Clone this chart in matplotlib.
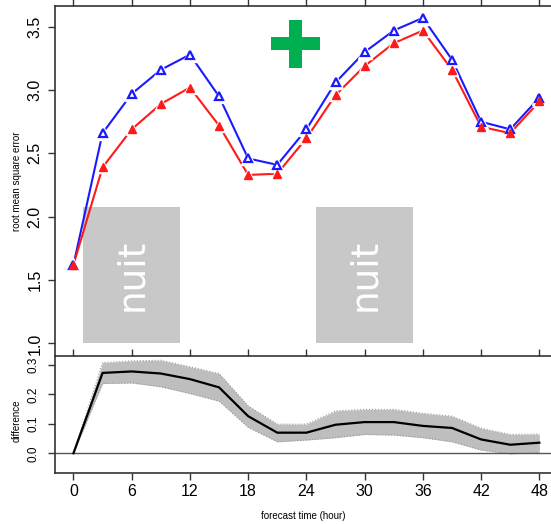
import matplotlib
matplotlib.use("Agg")
import matplotlib.pyplot as plt
from matplotlib.patches import Rectangle

plt.rcParams['font.family'] = ['Liberation Sans', 'DejaVu Sans']

# forecast lead times (hours)
hours = [0, 3, 6, 9, 12, 15, 18, 21, 24, 27, 30, 33, 36, 39, 42, 45, 48]

# RMSE of the two forecasts
rmse_blue = [1.62, 2.66, 2.97, 3.16, 3.28, 2.95, 2.46, 2.41, 2.69, 3.06, 3.30,
             3.47, 3.57, 3.24, 2.75, 2.69, 2.94]
rmse_red = [1.62, 2.39, 2.69, 2.89, 3.02, 2.72, 2.33, 2.34, 2.62, 2.96, 3.19,
            3.37, 3.47, 3.16, 2.71, 2.66, 2.91]

# difference and its confidence band
diff = [0.0, 0.273, 0.278, 0.271, 0.252, 0.224, 0.126, 0.070, 0.070, 0.097,
        0.106, 0.106, 0.093, 0.086, 0.047, 0.029, 0.036]
diff_hi = [0.0, 0.308, 0.314, 0.316, 0.294, 0.271, 0.161, 0.099, 0.099, 0.144,
           0.149, 0.149, 0.136, 0.126, 0.085, 0.064, 0.065]
diff_lo = [0.0, 0.237, 0.239, 0.226, 0.203, 0.177, 0.088, 0.039, 0.045, 0.053,
           0.064, 0.062, 0.053, 0.039, 0.011, -0.002, 0.002]

# night periods
nuit_spans = [(1, 11), (25, 35)]
nuit_bottom, nuit_top = 1.0, 2.08

W, H = 551, 524
fig = plt.figure(figsize=(W / 100, H / 100), dpi=100)


def fx(px):
    return px / W


def fy(py):
    return 1 - py / H


left = fx(55)
ax1 = fig.add_axes([left, fy(356), 1 - left, fy(5.7) - fy(356)])
ax2 = fig.add_axes([left, fy(473), 1 - left, fy(356) - fy(473)])

axcol = '#333333'
xlim = (-1.9, 49.2)
label_x = (fx(22) - left) / (1 - left)

# top panel
for x0, x1 in nuit_spans:
    ax1.add_patch(Rectangle((x0, nuit_bottom), x1 - x0, nuit_top - nuit_bottom,
                            facecolor='#c8c8c8', edgecolor='none', zorder=1))
    ax1.text((x0 + x1) / 2, (nuit_bottom + nuit_top) / 2, 'nuit', rotation=90,
             color='white', fontsize=27, family='DejaVu Sans',
             ha='center', va='center', zorder=2)

ax1.plot(hours, rmse_blue, color='#1a1aff', lw=1.5, zorder=3)
ax1.plot(hours, rmse_red, color='#ff1a1a', lw=1.5, zorder=3)
ax1.plot(hours, rmse_blue, ls='none', marker='^', ms=10, mfc='white',
         mec='white', zorder=4)
ax1.plot(hours, rmse_red, ls='none', marker='^', ms=9, mfc='white',
         mec='white', zorder=4)
ax1.plot(hours, rmse_blue, ls='none', marker='^', ms=6.2, mfc='white',
         mec='#1a1aff', mew=1.6, zorder=5)
ax1.plot(hours, rmse_red, ls='none', marker='^', ms=5.5, mfc='#ff1a1a',
         mec='#ff1a1a', zorder=5)

ax1.set_xlim(*xlim)
ax1.set_ylim(0.901, 3.666)
ax1.set_yticks([1.0, 1.5, 2.0, 2.5, 3.0, 3.5])
ax1.set_yticklabels(['1.0', '1.5', '2.0', '2.5', '3.0', '3.5'], rotation=90,
                    va='center')
ax1.set_xticks(range(0, 49, 6))
ax1.xaxis.tick_top()
ax1.tick_params(axis='x', labeltop=False, direction='out', length=5,
                width=1, color=axcol)
ax1.tick_params(axis='y', direction='out', length=5, width=1, color=axcol,
                labelsize=11.5, pad=4)
ax1.spines['right'].set_visible(False)
ax1.spines['bottom'].set_visible(False)
for s in ['left', 'top']:
    ax1.spines[s].set_color(axcol)
    ax1.spines[s].set_linewidth(1.2)
ax1.set_ylabel('root mean square error', fontsize=7)
ax1.yaxis.set_label_coords(label_x, 0.5)

# bottom panel
ax2.fill_between(hours, diff_lo, diff_hi, color='#bebebe', lw=0, zorder=1)
ax2.plot(hours, diff_hi, color='#999999', lw=0.8, ls=':', zorder=2)
ax2.plot(hours, diff_lo, color='#999999', lw=0.8, ls=':', zorder=2)
ax2.axhline(0, color='#555555', lw=1, zorder=2)
ax2.plot(hours, diff, color='black', lw=1.6, zorder=3)

ax2.set_xlim(*xlim)
ax2.set_ylim(-0.067, 0.3305)
ax2.set_yticks([0.0, 0.1, 0.2, 0.3])
ax2.set_yticklabels(['0.0', '0.1', '0.2', '0.3'], rotation=90, va='center')
ax2.set_xticks(range(0, 49, 6))
ax2.tick_params(axis='x', top=True, bottom=True, direction='out', length=5,
                width=1, color=axcol, labelsize=11.5, pad=3)
ax2.tick_params(axis='y', direction='out', length=5, width=1, color=axcol,
                labelsize=8.5, pad=6)
ax2.spines['right'].set_visible(False)
for s in ['left', 'top', 'bottom']:
    ax2.spines[s].set_color(axcol)
    ax2.spines[s].set_linewidth(1.2)
ax2.set_ylabel('difference', fontsize=7)
ax2.yaxis.set_label_coords(label_x, 0.45)
ax2.set_xlabel('forecast time (hour)', fontsize=7)
ax2.xaxis.set_label_coords(0.5, -0.325)

# green plus sign
green = '#00b050'
fig.patches.append(Rectangle((fx(289), fy(68)), fx(13), 48 / H,
                             transform=fig.transFigure, facecolor=green,
                             edgecolor='none'))
fig.patches.append(Rectangle((fx(271), fy(50)), fx(49), 13 / H,
                             transform=fig.transFigure, facecolor=green,
                             edgecolor='none'))

fig.savefig('out.png', dpi=100)
